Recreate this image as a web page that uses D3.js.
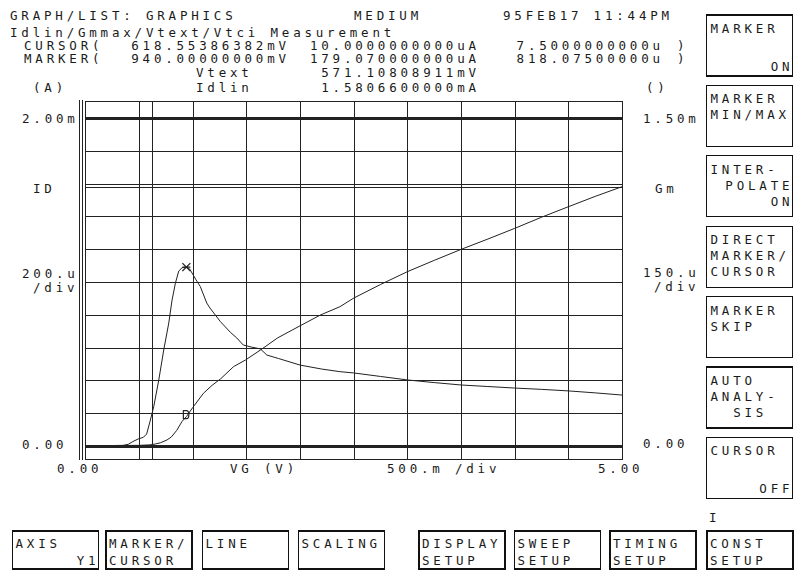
<!DOCTYPE html>
<meta charset="utf-8">
<style>
body { margin: 0; background: #fff; }
svg { display: block; }
text {
  font-family: "DejaVu Sans Mono", monospace;
  font-size: 12.5px;
  letter-spacing: 3.8px;
  fill: #1a1a1a;
}
.grid line { stroke: #222; stroke-width: 1; shape-rendering: crispEdges; }
.frame { fill: none; stroke: #222; stroke-width: 1; shape-rendering: crispEdges; }
.curve { fill: none; stroke: #222; stroke-width: 1; }
.key { fill: #fff; stroke: #111; stroke-width: 1.2; shape-rendering: crispEdges; }
</style>
<svg width="794" height="573"></svg>
<script src="https://d3js.org/d3.v7.min.js"></script>
<script>
// ID (mA) vs VG (V), left axis
var vgId = [0, 0.35, 0.5, 0.6, 0.65, 0.7, 0.76, 0.8, 0.85, 0.9, 0.94, 1.0, 1.1, 1.18, 1.26,
            1.38, 1.49, 1.63, 1.79, 2.0, 2.19, 2.37, 2.5, 2.75, 3.0, 3.25, 3.5, 3.75, 4.0,
            4.25, 4.5, 4.75, 5.0];
var idVals = [0, 0.003, 0.004, 0.007, 0.012, 0.02, 0.037, 0.055, 0.095, 0.15, 0.179, 0.235, 0.322, 0.37, 0.41,
              0.484, 0.524, 0.585, 0.659, 0.733, 0.799, 0.849, 0.902, 0.985, 1.063, 1.132, 1.199, 1.262, 1.327,
              1.395, 1.459, 1.522, 1.581];

// Gm (mS) vs VG (V), right axis
var vgGm = [0, 0.35, 0.40, 0.44, 0.49, 0.54, 0.57, 0.605, 0.636, 0.683, 0.729, 0.776, 0.807, 0.838,
            0.869, 0.90, 0.94, 0.97, 0.993, 1.03, 1.07, 1.13, 1.16, 1.257, 1.35, 1.41, 1.47, 1.55,
            1.63, 1.69, 1.8, 2.0, 2.2, 2.37, 2.5, 2.75, 3.0, 3.25, 3.5, 3.75, 4.0, 4.25, 4.5, 4.75, 5.0];
var gmVals = [0, 0.003, 0.008, 0.020, 0.032, 0.040, 0.055, 0.119, 0.18, 0.302, 0.439, 0.562, 0.668, 0.745,
              0.800, 0.815, 0.818, 0.81, 0.791, 0.76, 0.729, 0.654, 0.631, 0.569, 0.52, 0.494, 0.462, 0.452,
              0.444, 0.416, 0.40, 0.370, 0.352, 0.340, 0.334, 0.318, 0.302, 0.290, 0.279, 0.272, 0.265,
              0.259, 0.252, 0.243, 0.233];

var cursorVg = 0.61855386382, markerVg = 0.94, markerId = 0.17907, markerGm = 0.818075;
var idlin = 1.58066;

var headerTop = ["GRAPH/LIST: GRAPHICS", "MEDIUM", "95FEB17 11:44PM"];
var title = "Idlin/Gmmax/Vtext/Vtci Measurement";
var cursorRow = ["CURSOR(", "618.55386382mV", "10.0000000000uA", "7.5000000000u", ")"];
var markerRow = ["MARKER(", "940.00000000mV", "179.070000000uA", "818.07500000u", ")"];
var vtextRow = ["Vtext", "571.10808911mV"];
var idlinRow = ["Idlin", "1.5806600000mA"];
var leftTicks = ["2.00m", "200.u", "/div", "0.00"];
var rightTicks = ["1.50m", "150.u", "/div", "0.00"];
var xTicks = ["0.00", "VG (V)", "500.m /div", "5.00"];
var sideKeys = [["MARKER", "", "", "ON"], ["MARKER", "MIN/MAX"], ["INTER-", " POLATE", "ON"],
                ["DIRECT", "MARKER/", "CURSOR"], ["MARKER", "SKIP"], ["AUTO", "ANALY-", "  SIS"],
                ["CURSOR", "", "", "OFF"]];
var bottomKeys = [["AXIS", "Y1"], ["MARKER/", "CURSOR"], ["LINE", ""], ["SCALING", ""],
                  ["DISPLAY", "SETUP"], ["SWEEP", "SETUP"], ["TIMING", "SETUP"], ["CONST", "SETUP"]];

var svg = d3.select("svg");
var plot = {left: 85.5, right: 622, top: 101, bottom: 459};
var LS = 3.8; // letter spacing

var x = d3.scaleLinear().domain([0, 5]).range([plot.left, plot.right]),
    yL = d3.scaleLinear().domain([0, 2]).range([446, 118]),
    yR = d3.scaleLinear().domain([0, 1.5]).range([446, 118]);

function txt(s, px, py, anchor) {
  var t = svg.append("text").attr("x", px).attr("y", py).attr("xml:space", "preserve").text(s);
  if (anchor) t.attr("text-anchor", anchor);
  return t;
}
// right aligned text: letter-spacing adds trailing space, compensate
function rtxt(s, px, py) { return txt(s, px + LS, py, "end"); }

// header
txt(headerTop[0], 10, 20);
txt(headerTop[1], 354, 20);
txt(headerTop[2], 503, 20);
txt(title, 10, 37);
[[cursorRow, 50], [markerRow, 63]].forEach(function(r) {
  txt(r[0][0], 24, r[1]);
  rtxt(r[0][1], 286, r[1]);
  rtxt(r[0][2], 476, r[1]);
  rtxt(r[0][3], 660, r[1]);
  txt(r[0][4], 677, r[1]);
});
txt(vtextRow[0], 196, 77);
rtxt(vtextRow[1], 476, 77);
txt("(A)", 33, 92);
txt(idlinRow[0], 196, 92);
rtxt(idlinRow[1], 476, 92);
txt("()", 646, 92);

// grid
var grid = svg.append("g").attr("class", "grid");
grid.selectAll(".v").data(x.ticks(10).slice(1, -1)).enter().append("line")
    .attr("x1", function(d) { return Math.round(x(d)) + 0.5; })
    .attr("x2", function(d) { return Math.round(x(d)) + 0.5; })
    .attr("y1", plot.top).attr("y2", plot.bottom);
grid.selectAll(".h").data(yL.ticks(10)).enter().append("line")
    .attr("x1", plot.left).attr("x2", plot.right)
    .attr("y1", function(d) { return Math.round(yL(d)) + 0.5; })
    .attr("y2", function(d) { return Math.round(yL(d)) + 0.5; })
    .style("stroke-width", function(d) { return (d === 0 || d === 2) ? 2.2 : 1; });

// Idlin line and cursor line
grid.append("line").attr("x1", plot.left).attr("x2", plot.right)
    .attr("y1", Math.round(yL(idlin)) + 0.5).attr("y2", Math.round(yL(idlin)) + 0.5);
grid.append("line").attr("y1", plot.top).attr("y2", plot.bottom)
    .attr("x1", Math.round(x(cursorVg)) + 0.5).attr("x2", Math.round(x(cursorVg)) + 0.5);

svg.append("rect").attr("class", "frame")
    .attr("x", plot.left).attr("y", plot.top)
    .attr("width", plot.right - plot.left).attr("height", plot.bottom - plot.top);
// selected Y1 axis double bar
[79.5, 82].forEach(function(px) {
  svg.append("line").attr("class", "frame").attr("x1", px).attr("x2", px)
      .attr("y1", plot.top - 1).attr("y2", plot.bottom + 1);
});

// curves
var idLine = d3.line().x(function(d, i) { return x(vgId[i]); }).y(function(d) { return yL(d); });
var gmLine = d3.line().x(function(d, i) { return x(vgGm[i]); }).y(function(d) { return yR(d); });
svg.append("path").attr("class", "curve").attr("d", idLine(idVals));
svg.append("path").attr("class", "curve").attr("d", gmLine(gmVals));

// markers
var mx = x(markerVg), my = yR(markerGm);
svg.append("path").attr("class", "curve").style("stroke-width", 1.3)
    .attr("d", "M" + (mx - 4) + "," + (my - 4) + "L" + (mx + 4) + "," + (my + 4) +
               "M" + (mx - 4) + "," + (my + 4) + "L" + (mx + 4) + "," + (my - 4) +
               "M" + (mx - 4) + "," + my + "L" + (mx + 4) + "," + my);
var dx = x(markerVg), dy = yL(markerId);
svg.append("path").attr("class", "curve").style("stroke-width", 1.2)
    .attr("d", "M" + (dx - 3) + "," + (dy - 6) + "h3a2.5,4 0 0 1 0,8h-3z");

// axis labels
txt(leftTicks[0], 22, yL(2) + 5);
txt("ID", 33, 193);
txt(leftTicks[1], 22, 278);
txt(leftTicks[2], 33, 292);
txt(leftTicks[3], 22, yL(0) + 3);
txt(rightTicks[0], 643, yR(1.5) + 5);
txt("Gm", 655, 193);
txt(rightTicks[1], 643, 277);
txt(rightTicks[2], 654, 291);
txt(rightTicks[3], 643, yR(0) + 2);
txt(xTicks[0], 57, 473);
txt(xTicks[1], 230, 473);
txt(xTicks[2], 387, 473);
txt(xTicks[3], 598, 473);

// side soft keys
var keyOffsets = [18, 34, 50, 56];
sideKeys.forEach(function(k, i) {
  var top = 15 + i * 70.4, left = 706.5, w = 86, h = 61;
  svg.append("rect").attr("class", "key").attr("x", left).attr("y", top).attr("width", w).attr("height", h);
  k.forEach(function(s, j) {
    if (!s) return;
    if (s === "ON" || s === "OFF") {
      var yy = top + (j === 3 ? 56 : 50);
      rtxt(s, left + w - 3, yy);
    } else if (s === " POLATE") {
      rtxt(s.trim(), left + w - 3, top + keyOffsets[j]);
    } else {
      txt(s, left + 4, top + keyOffsets[j]);
    }
  });
});
txt("I", 709, 522);

// bottom soft keys
var bottomLefts = [12.5, 106, 202.5, 298.5, 419, 514.5, 610, 707];
bottomKeys.forEach(function(k, i) {
  var left = bottomLefts[i], top = 531, w = 86, h = 38;
  svg.append("rect").attr("class", "key").attr("x", left).attr("y", top).attr("width", w).attr("height", h);
  txt(k[0], left + 3, top + 17);
  if (k[1]) {
    if (k[1] === "Y1") rtxt(k[1], left + w - 3, top + 34);
    else txt(k[1], left + 3, top + 34);
  }
});
</script>
